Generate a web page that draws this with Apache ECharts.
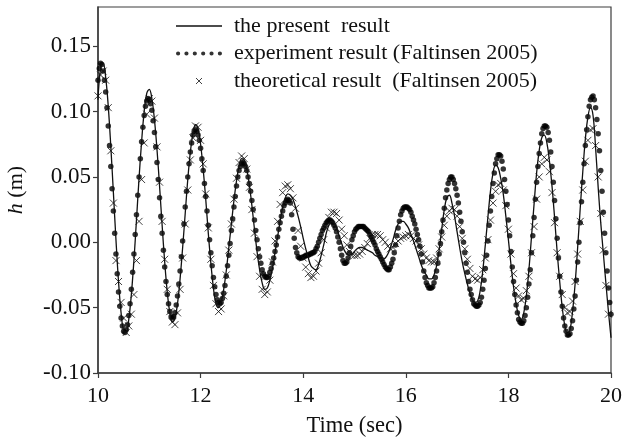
<!DOCTYPE html>
<html>
<head>
<meta charset="utf-8">
<script src="https://cdn.jsdelivr.net/npm/echarts@6/dist/echarts.min.js"></script>
<style>
html,body{margin:0;padding:0;background:#fff;}
#chart{width:622px;height:442px;}
</style>
</head>
<body>
<div id="chart"></div>
<script>
// sample times (sec) for the present result and the theoretical result
const sampleTimes = [
10.00,10.05,10.10,10.15,10.20,10.25,10.30,10.35,10.40,10.45,
10.50,10.55,10.60,10.65,10.70,10.75,10.80,10.85,10.90,10.95,
11.00,11.05,11.10,11.15,11.20,11.25,11.30,11.35,11.40,11.45,
11.50,11.55,11.60,11.65,11.70,11.75,11.80,11.85,11.90,11.95,
12.00,12.05,12.10,12.15,12.20,12.25,12.30,12.35,12.40,12.45,
12.50,12.55,12.60,12.65,12.70,12.75,12.80,12.85,12.90,12.95,
13.00,13.05,13.10,13.15,13.20,13.25,13.30,13.35,13.40,13.45,
13.50,13.55,13.60,13.65,13.70,13.75,13.80,13.85,13.90,13.95,
14.00,14.05,14.10,14.15,14.20,14.25,14.30,14.35,14.40,14.45,
14.50,14.55,14.60,14.65,14.70,14.75,14.80,14.85,14.90,14.95,
15.00,15.05,15.10,15.15,15.20,15.25,15.30,15.35,15.40,15.45,
15.50,15.55,15.60,15.65,15.70,15.75,15.80,15.85,15.90,15.95,
16.00,16.05,16.10,16.15,16.20,16.25,16.30,16.35,16.40,16.45,
16.50,16.55,16.60,16.65,16.70,16.75,16.80,16.85,16.90,16.95,
17.00,17.05,17.10,17.15,17.20,17.25,17.30,17.35,17.40,17.45,
17.50,17.55,17.60,17.65,17.70,17.75,17.80,17.85,17.90,17.95,
18.00,18.05,18.10,18.15,18.20,18.25,18.30,18.35,18.40,18.45,
18.50,18.55,18.60,18.65,18.70,18.75,18.80,18.85,18.90,18.95,
19.00,19.05,19.10,19.15,19.20,19.25,19.30,19.35,19.40,19.45,
19.50,19.55,19.60,19.65,19.70,19.75,19.80,19.85,19.90,19.95,
20.00
];

// the present result h (m)
const presentH = [
0.109,0.133,0.137,0.126,0.104,0.073,0.038,0.002,-0.030,-0.054,
-0.068,-0.069,-0.059,-0.040,-0.014,0.017,0.049,0.077,0.100,0.114,
0.117,0.110,0.094,0.071,0.043,0.013,-0.015,-0.038,-0.054,-0.061,
-0.058,-0.047,-0.028,-0.004,0.022,0.048,0.069,0.083,0.090,0.087,
0.075,0.056,0.033,0.007,-0.016,-0.035,-0.047,-0.050,-0.046,-0.036,
-0.022,-0.004,0.014,0.032,0.047,0.058,0.064,0.063,0.056,0.044,
0.028,0.010,-0.007,-0.021,-0.031,-0.036,-0.035,-0.029,-0.020,-0.008,
0.004,0.016,0.027,0.034,0.037,0.036,0.033,0.027,0.020,0.012,
0.003,-0.005,-0.012,-0.018,-0.020,-0.021,-0.017,-0.010,-0.002,0.007,
0.013,0.016,0.015,0.011,0.005,-0.001,-0.006,-0.009,-0.010,-0.009,
-0.007,-0.005,-0.004,-0.004,-0.005,-0.006,-0.007,-0.008,-0.010,-0.011,
-0.012,-0.013,-0.012,-0.009,-0.004,0.002,0.009,0.014,0.016,0.016,
0.014,0.011,0.006,0.001,-0.005,-0.011,-0.017,-0.022,-0.025,-0.028,
-0.028,-0.025,-0.018,-0.006,0.010,0.025,0.034,0.036,0.030,0.020,
0.008,-0.004,-0.015,-0.024,-0.032,-0.039,-0.044,-0.046,-0.045,-0.037,
-0.022,-0.002,0.019,0.039,0.053,0.059,0.057,0.049,0.037,0.020,
0.002,-0.017,-0.034,-0.047,-0.056,-0.059,-0.054,-0.041,-0.021,0.004,
0.029,0.053,0.070,0.080,0.082,0.076,0.062,0.043,0.019,-0.007,
-0.030,-0.050,-0.064,-0.070,-0.067,-0.053,-0.032,-0.004,0.026,0.054,
0.079,0.096,0.103,0.097,0.072,0.042,0.015,-0.008,-0.031,-0.053,
-0.073
];

// theoretical result (Faltinsen 2005) h (m)
const theoryH = [
0.112,0.128,0.131,0.124,0.103,0.070,0.030,-0.014,-0.030,-0.046,
-0.058,-0.069,-0.064,-0.055,-0.040,-0.014,0.016,0.048,0.076,0.098,
0.110,0.108,0.095,0.073,0.046,0.016,-0.013,-0.036,-0.053,-0.061,
-0.063,-0.054,-0.036,-0.012,0.014,0.040,0.063,0.080,0.089,0.088,
0.078,0.060,0.037,0.011,-0.013,-0.033,-0.047,-0.053,-0.051,-0.041,
-0.025,-0.006,0.014,0.033,0.049,0.061,0.066,0.064,0.056,0.042,
0.025,0.007,-0.011,-0.026,-0.036,-0.040,-0.038,-0.029,-0.015,0.001,
0.016,0.029,0.038,0.043,0.044,0.041,0.034,0.026,0.009,-0.003,
-0.012,-0.019,-0.024,-0.027,-0.026,-0.022,-0.016,-0.008,0.002,0.011,
0.019,0.023,0.023,0.022,0.017,0.010,0.005,-0.002,-0.007,-0.010,
-0.010,-0.010,-0.009,-0.007,-0.004,-0.001,0.003,0.006,0.006,0.006,
0.005,0.002,0.000,-0.003,-0.005,-0.004,-0.001,0.001,0.003,0.004,
0.005,0.006,0.005,0.003,0.001,-0.002,-0.005,-0.009,-0.012,-0.014,
-0.015,-0.015,-0.012,-0.005,0.004,0.013,0.020,0.024,0.026,0.025,
0.020,0.012,0.003,-0.005,-0.013,-0.020,-0.026,-0.028,-0.029,-0.027,
-0.021,-0.012,0.002,0.017,0.030,0.039,0.044,0.045,0.040,0.028,
0.010,-0.009,-0.024,-0.035,-0.041,-0.044,-0.043,-0.037,-0.026,-0.008,
0.012,0.033,0.050,0.060,0.065,0.063,0.054,0.038,0.015,-0.008,
-0.026,-0.040,-0.050,-0.054,-0.053,-0.045,-0.030,-0.009,0.016,0.040,
0.062,0.078,0.086,0.087,0.074,0.050,0.022,-0.006,-0.033,-0.055,
null
];

// experiment sample times (sec)
const experimentTimes = [
10.000,10.025,10.050,10.075,10.100,10.125,10.150,10.175,10.200,10.225,10.250,10.275,10.300,10.325,10.350,10.375,10.400,10.425,10.450,10.475,
10.500,10.525,10.550,10.575,10.600,10.625,10.650,10.675,10.700,10.725,10.750,10.775,10.800,10.825,10.850,10.875,10.900,10.925,10.950,10.975,
11.000,11.025,11.050,11.075,11.100,11.125,11.150,11.175,11.200,11.225,11.250,11.275,11.300,11.325,11.350,11.375,11.400,11.425,11.450,11.475,
11.500,11.525,11.550,11.575,11.600,11.625,11.650,11.675,11.700,11.725,11.750,11.775,11.800,11.825,11.850,11.875,11.900,11.925,11.950,11.975,
12.000,12.025,12.050,12.075,12.100,12.125,12.150,12.175,12.200,12.225,12.250,12.275,12.300,12.325,12.350,12.375,12.400,12.425,12.450,12.475,
12.500,12.525,12.550,12.575,12.600,12.625,12.650,12.675,12.700,12.725,12.750,12.775,12.800,12.825,12.850,12.875,12.900,12.925,12.950,12.975,
13.000,13.025,13.050,13.075,13.100,13.125,13.150,13.175,13.200,13.225,13.250,13.275,13.300,13.325,13.350,13.375,13.400,13.425,13.450,13.475,
13.500,13.525,13.550,13.575,13.600,13.625,13.650,13.675,13.700,13.725,13.750,13.775,13.800,13.825,13.850,13.875,13.900,13.925,13.950,13.975,
14.000,14.025,14.050,14.075,14.100,14.125,14.150,14.175,14.200,14.225,14.250,14.275,14.300,14.325,14.350,14.375,14.400,14.425,14.450,14.475,
14.500,14.525,14.550,14.575,14.600,14.625,14.650,14.675,14.700,14.725,14.750,14.775,14.800,14.825,14.850,14.875,14.900,14.925,14.950,14.975,
15.000,15.025,15.050,15.075,15.100,15.125,15.150,15.175,15.200,15.225,15.250,15.275,15.300,15.325,15.350,15.375,15.400,15.425,15.450,15.475,
15.500,15.525,15.550,15.575,15.600,15.625,15.650,15.675,15.700,15.725,15.750,15.775,15.800,15.825,15.850,15.875,15.900,15.925,15.950,15.975,
16.000,16.025,16.050,16.075,16.100,16.125,16.150,16.175,16.200,16.225,16.250,16.275,16.300,16.325,16.350,16.375,16.400,16.425,16.450,16.475,
16.500,16.525,16.550,16.575,16.600,16.625,16.650,16.675,16.700,16.725,16.750,16.775,16.800,16.825,16.850,16.875,16.900,16.925,16.950,16.975,
17.000,17.025,17.050,17.075,17.100,17.125,17.150,17.175,17.200,17.225,17.250,17.275,17.300,17.325,17.350,17.375,17.400,17.425,17.450,17.475,
17.500,17.525,17.550,17.575,17.600,17.625,17.650,17.675,17.700,17.725,17.750,17.775,17.800,17.825,17.850,17.875,17.900,17.925,17.950,17.975,
18.000,18.025,18.050,18.075,18.100,18.125,18.150,18.175,18.200,18.225,18.250,18.275,18.300,18.325,18.350,18.375,18.400,18.425,18.450,18.475,
18.500,18.525,18.550,18.575,18.600,18.625,18.650,18.675,18.700,18.725,18.750,18.775,18.800,18.825,18.850,18.875,18.900,18.925,18.950,18.975,
19.000,19.025,19.050,19.075,19.100,19.125,19.150,19.175,19.200,19.225,19.250,19.275,19.300,19.325,19.350,19.375,19.400,19.425,19.450,19.475,
19.500,19.525,19.550,19.575,19.600,19.625,19.650,19.675,19.700,19.725,19.750,19.775,19.800,19.825,19.850,19.875,19.900,19.925,19.950,19.975,
20.000
];

// experiment result (Faltinsen 2005) h (m)
const experimentH = [
0.124,0.133,0.137,0.136,0.131,0.124,0.115,0.103,0.089,0.074,0.058,0.041,0.024,0.007,-0.009,-0.024,-0.038,-0.049,-0.058,-0.064,
-0.068,-0.069,-0.067,-0.063,-0.056,-0.047,-0.036,-0.023,-0.009,0.006,0.021,0.036,0.050,0.064,0.077,0.088,0.097,0.104,0.108,0.110,
0.109,0.106,0.101,0.093,0.084,0.073,0.061,0.048,0.034,0.020,0.007,-0.006,-0.019,-0.030,-0.040,-0.047,-0.053,-0.057,-0.058,-0.057,
-0.054,-0.048,-0.041,-0.032,-0.022,-0.011,0.001,0.014,0.027,0.039,0.050,0.060,0.069,0.076,0.082,0.085,0.086,0.085,0.082,0.078,
0.072,0.064,0.055,0.045,0.035,0.024,0.013,0.002,-0.008,-0.018,-0.027,-0.034,-0.040,-0.044,-0.046,-0.047,-0.046,-0.043,-0.039,-0.033,
-0.026,-0.018,-0.010,-0.001,0.009,0.018,0.027,0.035,0.043,0.050,0.055,0.058,0.060,0.061,0.060,0.058,0.055,0.050,0.045,0.039,
0.032,0.025,0.017,0.009,0.002,-0.005,-0.011,-0.016,-0.021,-0.024,-0.026,-0.027,-0.027,-0.026,-0.023,-0.020,-0.016,-0.012,-0.007,-0.002,
0.004,0.010,0.015,0.020,0.024,0.028,0.030,0.032,0.033,0.032,0.030,0.021,0.010,0.003,-0.004,-0.008,-0.011,-0.012,-0.012,-0.012,
-0.011,-0.011,-0.010,-0.010,-0.010,-0.009,-0.009,-0.008,-0.008,-0.007,-0.005,-0.003,0.000,0.003,0.006,0.009,0.011,0.013,0.015,0.016,
0.017,0.017,0.016,0.015,0.013,0.011,0.008,0.004,0.000,-0.005,-0.010,-0.014,-0.016,-0.016,-0.015,-0.012,-0.008,-0.003,0.002,0.005,
0.008,0.010,0.011,0.012,0.012,0.012,0.012,0.012,0.011,0.010,0.009,0.008,0.006,0.004,0.002,0.000,-0.002,-0.005,-0.007,-0.009,
-0.011,-0.013,-0.015,-0.017,-0.019,-0.020,-0.021,-0.021,-0.019,-0.016,-0.013,-0.008,-0.002,0.005,0.011,0.016,0.021,0.024,0.026,0.027,
0.027,0.027,0.026,0.025,0.023,0.020,0.017,0.014,0.010,0.006,0.002,-0.003,-0.009,-0.015,-0.022,-0.027,-0.031,-0.033,-0.035,-0.035,
-0.035,-0.034,-0.031,-0.027,-0.022,-0.016,-0.009,-0.001,0.008,0.017,0.026,0.034,0.040,0.045,0.048,0.050,0.050,0.048,0.045,0.041,
0.036,0.030,0.023,0.016,0.008,0.000,-0.008,-0.016,-0.023,-0.030,-0.036,-0.040,-0.044,-0.047,-0.048,-0.049,-0.049,-0.048,-0.046,-0.042,
-0.036,-0.029,-0.020,-0.010,0.001,0.013,0.024,0.035,0.045,0.053,0.060,0.064,0.067,0.067,0.066,0.062,0.056,0.048,0.039,0.029,
0.017,0.005,-0.007,-0.019,-0.030,-0.040,-0.048,-0.054,-0.059,-0.061,-0.062,-0.062,-0.060,-0.056,-0.050,-0.042,-0.032,-0.021,-0.008,0.005,
0.019,0.033,0.046,0.058,0.068,0.076,0.083,0.087,0.089,0.089,0.088,0.084,0.078,0.069,0.058,0.046,0.032,0.018,0.003,-0.012,
-0.026,-0.038,-0.049,-0.058,-0.064,-0.068,-0.071,-0.071,-0.070,-0.066,-0.060,-0.051,-0.041,-0.029,-0.015,0.000,0.015,0.031,0.046,0.060,
0.074,0.086,0.096,0.104,0.109,0.111,0.112,0.109,0.103,0.094,0.083,0.070,0.055,0.039,0.023,0.007,-0.008,-0.022,-0.035,-0.046,
-0.055
];

const seriesNames = ['the present  result', 'experiment result (Faltinsen 2005)', 'theoretical result  (Faltinsen 2005)'];
const xTicks = [10, 12, 14, 16, 18, 20];
const yTicks = [-0.10, -0.05, 0.00, 0.05, 0.10, 0.15];

const pairs = (times, arr) => times.map((t, i) => [t, arr[i]]).filter(p => p[1] !== null);

const ink = '#111';
const axisInk = '#3c3c3c';
const serif = 'Liberation Serif';

const lineIcon = 'path://M0,0h46v1.3h-46z';
const dotsIcon = 'path://M0,2a2,2 0 1,0 4,0a2,2 0 1,0 -4,0M8,2a2,2 0 1,0 4,0a2,2 0 1,0 -4,0M16,2a2,2 0 1,0 4,0a2,2 0 1,0 -4,0M24,2a2,2 0 1,0 4,0a2,2 0 1,0 -4,0M32,2a2,2 0 1,0 4,0a2,2 0 1,0 -4,0M40,2a2,2 0 1,0 4,0a2,2 0 1,0 -4,0';
const crossPath = 'path://M0,0L10,10M10,0L0,10';

const chart = echarts.init(document.getElementById('chart'), null, {renderer: 'canvas'});
chart.setOption({
  animation: false,
  backgroundColor: '#fff',
  grid: {left: 98, right: 11, top: 7, bottom: 69, outerBoundsMode: 'none', containLabel: false, show: true, borderColor: axisInk, borderWidth: 1.2, backgroundColor: 'transparent'},
  legend: {
    orient: 'vertical',
    left: 171,
    top: 10,
    itemGap: 5.5,
    itemWidth: 46,
    itemHeight: 6,
    textStyle: {fontFamily: serif, fontSize: 22, color: ink, padding: [0, 0, 0, 7]},
    data: [
      {name: seriesNames[0], icon: lineIcon, itemStyle: {color: ink, borderWidth: 0}},
      {name: seriesNames[1], icon: dotsIcon, itemStyle: {color: '#000', borderWidth: 0}},
      {name: seriesNames[2], icon: crossPath, itemStyle: {borderWidth: 1, borderColor: ink, color: 'transparent'}}
    ]
  },
  xAxis: {
    type: 'value', min: 10, max: 20, interval: 2,
    name: 'Time (sec)', nameLocation: 'middle', nameGap: 42,
    nameTextStyle: {fontFamily: serif, fontSize: 22.5, color: ink},
    axisLine: {onZero: false, lineStyle: {color: axisInk, width: 1.5}},
    axisTick: {show: true, inside: false, length: 5, lineStyle: {color: axisInk, width: 1.2}, customValues: xTicks},
    axisLabel: {fontFamily: serif, fontSize: 22, color: ink, margin: 12, customValues: xTicks},
    splitLine: {show: false}
  },
  yAxis: {
    type: 'value', min: -0.10, max: 0.18, interval: 0.05,
    name: '{i|h} (m)', nameLocation: 'middle', nameGap: 71,
    nameTextStyle: {fontFamily: serif, fontSize: 22, color: ink, rich: {i: {fontFamily: serif, fontSize: 22, fontStyle: 'italic', color: ink}}},
    axisLine: {show: true, onZero: false, lineStyle: {color: axisInk, width: 1.5}},
    axisTick: {show: true, inside: false, length: 5, lineStyle: {color: axisInk, width: 1.2}, customValues: yTicks},
    axisLabel: {fontFamily: serif, fontSize: 23, color: ink, margin: 7, customValues: yTicks, formatter: v => v.toFixed(2)},
    splitLine: {show: false}
  },
  series: [
    {
      name: seriesNames[0], type: 'line', data: pairs(sampleTimes, presentH), symbol: 'none', smooth: 0.4,
      lineStyle: {color: ink, width: 1.3}, itemStyle: {color: ink}, z: 4
    },
    {
      name: seriesNames[1], type: 'scatter', data: pairs(experimentTimes, experimentH), symbol: 'circle', symbolSize: 5.5,
      itemStyle: {color: '#000'}, z: 3
    },
    {
      name: seriesNames[2], type: 'scatter', data: pairs(sampleTimes, theoryH), symbol: crossPath, symbolSize: 7,
      itemStyle: {color: 'transparent', borderColor: ink, borderWidth: 1}, z: 5
    }
  ]
});
</script>
</body>
</html>
